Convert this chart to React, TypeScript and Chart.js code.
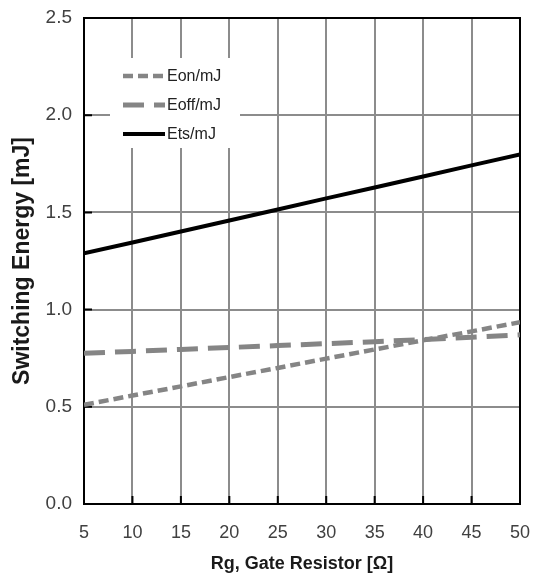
import { useEffect, useRef } from "react";
import { Chart, registerables } from "chart.js";

Chart.register(...registerables);

const rgValues = [5, 10, 15, 20, 25, 30, 35, 40, 45, 50];
const eonValues = [0.51, 0.558, 0.605, 0.653, 0.7, 0.748, 0.795, 0.842, 0.888, 0.935];
const eoffValues = [0.775, 0.785, 0.795, 0.805, 0.815, 0.825, 0.835, 0.846, 0.858, 0.87];
const etsValues = [1.29, 1.345, 1.402, 1.458, 1.515, 1.572, 1.628, 1.685, 1.742, 1.798];
const seriesLabels = ["Eon/mJ", "Eoff/mJ", "Ets/mJ"];
const xAxisTitle = "Rg, Gate Resistor [Ω]";
const yAxisTitle = "Switching Energy [mJ]";

const FONT = '"Liberation Sans", Arial, sans-serif';

const frameAndTicks = {
  id: "frameAndTicks",
  beforeDatasetsDraw(chart: any) {
    const { ctx, chartArea, scales } = chart;
    ctx.save();
    ctx.strokeStyle = "#000";
    ctx.lineWidth = 2;
    ctx.beginPath();
    scales.x.ticks.forEach((t: any) => {
      const px = scales.x.getPixelForValue(t.value);
      ctx.moveTo(px, chartArea.bottom);
      ctx.lineTo(px, chartArea.bottom - 8);
    });
    scales.y.ticks.forEach((t: any) => {
      const py = scales.y.getPixelForValue(t.value);
      ctx.moveTo(chartArea.left, py);
      ctx.lineTo(chartArea.left + 8, py);
    });
    ctx.stroke();
    ctx.strokeRect(chartArea.left, chartArea.top, chartArea.right - chartArea.left, chartArea.bottom - chartArea.top);
    ctx.restore();
  },
};

const insideLegend = {
  id: "insideLegend",
  afterDatasetsDraw(chart: any) {
    const { ctx, chartArea } = chart;
    const x0 = chartArea.left + 26;
    const y0 = chartArea.top + 40;
    ctx.save();
    ctx.fillStyle = "#fff";
    ctx.fillRect(x0, y0, 130, 90);
    chart.data.datasets.forEach((ds: any, i: number) => {
      const cy = y0 + 18 + i * 29;
      ctx.strokeStyle = ds.borderColor;
      ctx.lineWidth = ds.borderWidth;
      ctx.setLineDash(ds.borderDash || []);
      ctx.beginPath();
      ctx.moveTo(x0 + 13, cy);
      ctx.lineTo(x0 + 55, cy);
      ctx.stroke();
      ctx.setLineDash([]);
      ctx.fillStyle = "#222";
      ctx.font = "16px " + FONT;
      ctx.textBaseline = "middle";
      ctx.textAlign = "left";
      ctx.fillText(ds.label, x0 + 57, cy + 1);
    });
    ctx.restore();
  },
};

export default function App() {
  const ref = useRef<HTMLCanvasElement>(null);

  useEffect(() => {
    if (!ref.current) return;
    const toPts = (vals: number[]) => rgValues.map((x, i) => ({ x, y: vals[i] }));
    const chart = new Chart(ref.current, {
      type: "line",
      data: {
        datasets: [
          {
            label: seriesLabels[0],
            data: toPts(eonValues),
            borderColor: "#858585",
            borderWidth: 4.5,
            borderDash: [10, 5],
            pointRadius: 0,
            fill: false,
          },
          {
            label: seriesLabels[1],
            data: toPts(eoffValues),
            borderColor: "#858585",
            borderWidth: 5,
            borderDash: [21, 10],
            pointRadius: 0,
            fill: false,
          },
          {
            label: seriesLabels[2],
            data: toPts(etsValues),
            borderColor: "#000",
            borderWidth: 4,
            pointRadius: 0,
            fill: false,
          },
        ],
      },
      plugins: [frameAndTicks, insideLegend],
      options: {
        animation: false,
        responsive: true,
        maintainAspectRatio: false,
        layout: { padding: { top: 18, right: 17, left: 0, bottom: 0 } },
        plugins: {
          legend: { display: false },
          tooltip: { enabled: false },
        },
        scales: {
          x: {
            type: "linear",
            min: 5,
            max: 50,
            afterFit: (s: any) => {
              s.height = 75;
              s.paddingLeft = 0;
              s.paddingRight = 0;
            },
            ticks: {
              stepSize: 5,
              color: "#404040",
              font: { family: FONT, size: 18 },
              padding: 18,
            },
            grid: { color: "#8c8c8c", lineWidth: 2, drawTicks: false },
            border: { display: false },
            title: {
              display: true,
              text: xAxisTitle,
              color: "#1a1a1a",
              font: { family: FONT, size: 18, weight: "bold" },
              padding: { top: 0, bottom: 4 },
            },
          },
          y: {
            min: 0,
            max: 2.5,
            afterFit: (s: any) => {
              s.width = 84;
              s.paddingTop = 0;
              s.paddingBottom = 0;
            },
            ticks: {
              stepSize: 0.5,
              color: "#404040",
              font: { family: FONT, size: 19 },
              padding: 12,
              callback: (v: any) => Number(v).toFixed(1),
            },
            grid: { color: "#8c8c8c", lineWidth: 2, drawTicks: false },
            border: { display: false },
            title: {
              display: true,
              text: yAxisTitle,
              color: "#1a1a1a",
              font: { family: FONT, size: 23, weight: "bold" },
              padding: { top: 9, bottom: 0 },
            },
          },
        },
      },
    });
    return () => chart.destroy();
  }, []);

  return (
    <div style={{ position: "fixed", left: 0, top: 0, width: 537, height: 579, background: "#fff" }}>
      <canvas ref={ref} />
    </div>
  );
}
